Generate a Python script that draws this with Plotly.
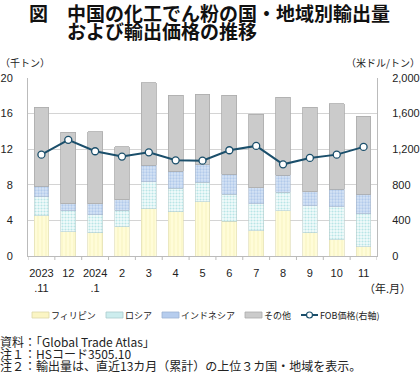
import plotly.graph_objects as go

months = ["2023<br>.11", "12", "2024<br>.1", "2", "3", "4", "5", "6", "7", "8", "9", "10", "11"]
philippines = [4.55, 2.74, 2.63, 3.31, 5.30, 5.00, 6.09, 3.91, 2.86, 5.08, 2.59, 1.84, 1.02]
russia = [2.10, 2.34, 2.03, 1.84, 3.05, 2.59, 2.22, 3.04, 3.00, 2.06, 3.05, 3.69, 3.75]
indonesia = [1.21, 0.78, 1.20, 1.17, 1.84, 1.96, 1.99, 2.26, 1.81, 1.96, 1.58, 1.95, 2.18]
others = [8.87, 8.04, 8.12, 5.97, 9.28, 8.53, 7.90, 8.87, 8.27, 8.76, 9.47, 9.62, 8.76]
fob_price = [1139, 1305, 1177, 1117, 1165, 1075, 1071, 1188, 1237, 1030, 1102, 1139, 1226]

left_ticks = [0, 4, 8, 12, 16, 20]
right_ticks = [0, 400, 800, 1200, 1600, 2000]
right_ticktext = ["0", "400", "800", "1,200", "1,600", "2,000"]

series_names = ["フィリピン", "ロシア", "インドネシア", "その他", "FOB価格(右軸)"]

FONT = "Noto Sans CJK JP, Noto Sans, sans-serif"
NUMFONT = "Liberation Sans, Arial, sans-serif"
x_idx = list(range(len(months)))

W, H = 420, 375
ML, MR, MT, MB = 28, 43, 78, 119
PW, PH = W - ML - MR, H - MT - MB


def px(x):
    return (x - ML) / PW


def py(y):
    return (H - MB - y) / PH


LINE_C = "#1B4F6B"
styles = [
    dict(color="#FFFBD0", line=dict(color="#DEDAB0", width=0.6),
         pattern=dict(shape="|", fgcolor="#EFE9A8", bgcolor="#FFFCD8", size=4, solidity=0.25)),
    dict(color="#E6F7F7", line=dict(color="#B8CFCF", width=0.6),
         pattern=dict(shape=".", fgcolor="#7FCFD2", bgcolor="#F2FBFB", size=3, solidity=0.4)),
    dict(color="#C7DAF2", line=dict(color="#A8B8CC", width=0.6),
         pattern=dict(shape=".", fgcolor="#8DB0DF", bgcolor="#D6E4F5", size=3, solidity=0.45)),
    dict(color="#CBCBCB", line=dict(color="#ABABAB", width=0.8)),
]
swatch_fill = ["#FBF5C4", "#CDEDEE", "#B6CDEE", "#CBCBCB"]
swatch_line = ["#DDD7A8", "#A9CCCD", "#9DB3D3", "#ABABAB"]

fig = go.Figure()
bar_w = 0.55
for vals, name, st in zip([philippines, russia, indonesia, others], series_names[:4], styles):
    fig.add_bar(x=x_idx, y=vals, name=name, width=bar_w, marker=st, showlegend=False)
fig.add_scatter(x=x_idx, y=fob_price, name=series_names[4], yaxis="y2", mode="lines+markers",
                line=dict(color=LINE_C, width=2), showlegend=False,
                marker=dict(symbol="circle", size=7, color="white", line=dict(color=LINE_C, width=1.3)))

fig.update_layout(
    barmode="stack",
    width=W, height=H,
    paper_bgcolor="white", plot_bgcolor="white",
    font=dict(family=FONT, size=11, color="#222"),
    margin=dict(l=ML, r=MR, t=MT, b=MB, autoexpand=False),
    showlegend=False,
    xaxis=dict(type="linear", range=[-0.5, len(months) - 0.5], tickmode="array",
               tickvals=x_idx, ticktext=months, ticks="", showgrid=False, ticklabelstandoff=7,
               showline=True, linecolor="#BBBBBB", linewidth=1, zeroline=False,
               tickfont=dict(size=11, family=NUMFONT), automargin=False),
    yaxis=dict(range=[0, 20], tickvals=left_ticks, showgrid=True, gridcolor="#D4D4D4", gridwidth=1,
               showline=True, linecolor="#BBBBBB", zeroline=False, ticks="", ticklabelstandoff=12,
               tickfont=dict(size=11, family=NUMFONT), automargin=False),
    yaxis2=dict(range=[0, 2000], tickvals=right_ticks, ticktext=right_ticktext, overlaying="y", side="right",
                showgrid=False, showline=True, linecolor="#BBBBBB", zeroline=False, ticks="",
                ticklabelstandoff=12, tickfont=dict(size=11, family=NUMFONT), automargin=False),
)

# tick marks between categories (boundaries)
for b in [i + 0.5 for i in range(-1, len(months))]:
    fig.add_shape(type="line", xref="x", yref="paper", x0=b, x1=b, y0=0, y1=-4 / PH,
                  line=dict(color="#BBBBBB", width=1))

# custom one-row legend, like the reference
LEG_Y = 315
sw_x = [32, 106, 162, 245]
for i in range(4):
    fig.add_shape(type="rect", xref="paper", yref="paper",
                  x0=px(sw_x[i]), x1=px(sw_x[i] + 17), y0=py(LEG_Y + 3), y1=py(LEG_Y - 3),
                  fillcolor=swatch_fill[i], line=dict(color=swatch_line[i], width=0.8))
    fig.add_annotation(text=series_names[i], xref="paper", yref="paper", x=px(sw_x[i] + 19), xanchor="left",
                       y=py(LEG_Y), yanchor="middle", showarrow=False, xshift=-2,
                       font=dict(size=9, family=FONT, color="#222"))
fob_x = 301
fig.add_shape(type="line", xref="paper", yref="paper", x0=px(fob_x), x1=px(fob_x + 17), y0=py(LEG_Y), y1=py(LEG_Y),
              line=dict(color=LINE_C, width=2))
fig.add_shape(type="circle", xref="paper", yref="paper", x0=px(fob_x + 5.5), x1=px(fob_x + 11.5),
              y0=py(LEG_Y + 3), y1=py(LEG_Y - 3), fillcolor="white", line=dict(color=LINE_C, width=1.2))
fig.add_annotation(text=series_names[4], xref="paper", yref="paper", x=px(fob_x + 19), xanchor="left",
                   y=py(LEG_Y), yanchor="middle", showarrow=False, xshift=-2,
                   font=dict(size=9, family=FONT, color="#222"))

fig.add_annotation(text="<b>図　中国の化工でん粉の国・地域別輸出量</b>", xref="paper", yref="paper",
                   x=px(29), xanchor="left", y=py(12), yanchor="middle", xshift=-2,
                   showarrow=False, font=dict(size=19, family=FONT, color="#111"))
fig.add_annotation(text="<b>および輸出価格の推移</b>", xref="paper", yref="paper",
                   x=px(67), xanchor="left", y=py(31), yanchor="middle", xshift=-2,
                   showarrow=False, font=dict(size=19, family=FONT, color="#111"))
fig.add_annotation(text="（千トン）", xref="paper", yref="paper", x=px(0), xanchor="left", xshift=-2,
                   y=py(62), yanchor="middle", showarrow=False, font=dict(size=10, family=FONT))
fig.add_annotation(text="（米ドル/トン）", xref="paper", yref="paper", x=px(420), xanchor="right", xshift=2,
                   y=py(62), yanchor="middle", showarrow=False, font=dict(size=10, family=FONT))
fig.add_annotation(text="（年.月）", xref="paper", yref="paper", x=px(411), xanchor="right", xshift=2,
                   y=py(288), yanchor="middle", showarrow=False, font=dict(size=11, family=FONT))

notes = ["資料：「Global Trade Atlas」", "注１：HSコード3505.10", "注２：輸出量は、直近13カ月（累計）の上位３カ国・地域を表示。"]
note_y = [341, 353, 365]
for n, yy in zip(notes, note_y):
    fig.add_annotation(text=n, xref="paper", yref="paper", x=px(0), xanchor="left", xshift=-2,
                       y=py(yy), yanchor="middle", showarrow=False,
                       font=dict(size=12, family=FONT, color="#222"))

fig.write_html("out.html", config={"displayModeBar": False},
               post_script="document.body.style.margin='0';document.body.style.padding='0';")
